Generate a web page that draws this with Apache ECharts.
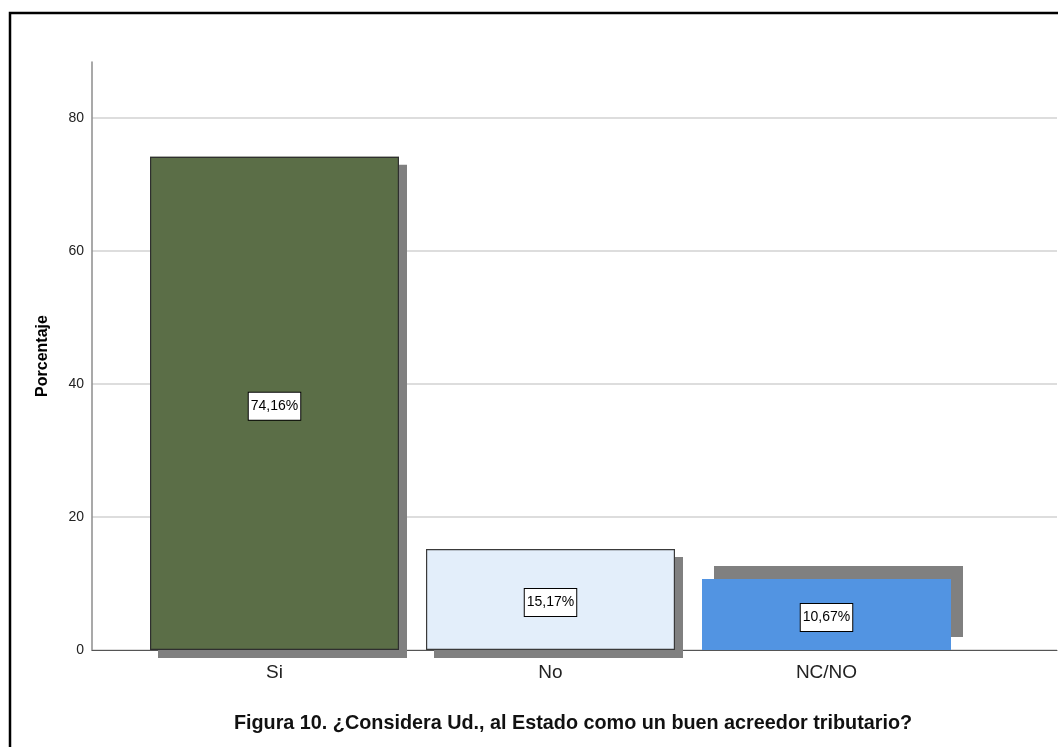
<!DOCTYPE html>
<html>
<head>
<meta charset="utf-8">
<script src="https://cdn.jsdelivr.net/npm/echarts@6/dist/echarts.min.js"></script>
<style>
  html, body { margin: 0; padding: 0; background: #fff; }
  #chart { width: 1058px; height: 747px; }
</style>
</head>
<body>
<div id="chart"></div>
<script>
// Survey answers and their share of respondents (%)
const categories = ['Si', 'No', 'NC/NO'];
const percentages = [74.16, 15.17, 10.67];
const barColors = ['#5b6e47', '#e3eefa', '#5294e2'];
const barBorders = ['#2f2f2f', '#3a3a3a', 'transparent'];
const yTicks = [0, 20, 40, 60, 80];
const yMax = 88.4;

const sans = '"Liberation Sans", Arial, sans-serif';

const chart = echarts.init(document.getElementById('chart'), null, { renderer: 'canvas' });

// filled bars casting a flat grey drop shadow (the last one is shifted up-right)
const fillData = percentages.map((v, i) => ({
  value: v,
  itemStyle: {
    color: barColors[i],
    shadowColor: '#808080',
    shadowBlur: 0,
    shadowOffsetX: i === 2 ? 12 : 8,
    shadowOffsetY: i === 2 ? -13 : 8
  }
}));

// outline layer drawn on top, carrying the value labels
const outlineData = percentages.map((v, i) => ({
  value: v,
  itemStyle: {
    color: 'transparent',
    borderColor: barBorders[i],
    borderWidth: 1.2
  }
}));

chart.setOption({
  animation: false,
  backgroundColor: '#ffffff',
  title: {
    text: 'Figura 10. ¿Considera Ud., al Estado como un buen acreedor tributario?',
    left: 568,
    top: 709,
    textAlign: 'center',
    textStyle: { fontFamily: sans, fontWeight: 'bold', fontSize: 19.8, color: '#111' }
  },
  graphic: [{
    type: 'rect',
    shape: { x: 10, y: 13, width: 1100, height: 800 },
    style: { fill: 'none', stroke: '#000', lineWidth: 2.5 },
    silent: true
  }],
  grid: [
    // frame holding the value axis and gridlines
    { left: 92, right: 1, top: 62, bottom: 97 },
    // band area where the category bars sit
    { left: 136.5, width: 828, top: 62, bottom: 97 }
  ],
  xAxis: [
    {
      gridIndex: 0, type: 'value', min: 0, max: 1,
      axisLine: { show: true, onZero: false, lineStyle: { color: '#555', width: 1 } },
      axisTick: { show: false }, axisLabel: { show: false }, splitLine: { show: false }
    },
    {
      gridIndex: 1, type: 'category', data: categories,
      axisLine: { show: false }, axisTick: { show: false },
      axisLabel: { margin: 13, fontFamily: sans, fontSize: 19, color: '#222' }
    }
  ],
  yAxis: [
    {
      gridIndex: 0, type: 'value', min: 0, max: yMax, interval: 20,
      name: 'Porcentaje', nameLocation: 'middle', nameRotate: 90, nameGap: 41,
      nameTextStyle: { fontFamily: sans, fontWeight: 'bold', fontSize: 16, color: '#000' },
      axisLine: { show: true, lineStyle: { color: '#8c8c8c', width: 1.5 } },
      axisTick: { show: false },
      axisLabel: {
        margin: 8, fontFamily: sans, fontSize: 14, color: '#222',
        showMaxLabel: false,
        formatter: v => (yTicks.includes(v) ? String(v) : '')
      },
      splitLine: { show: true, showMaxLine: false, lineStyle: { color: '#d2d2d2', width: 1.5 } }
    },
    {
      gridIndex: 1, type: 'value', min: 0, max: yMax, interval: 20,
      show: false, splitLine: { show: false }
    }
  ],
  series: [
    {
      type: 'bar',
      xAxisIndex: 1, yAxisIndex: 1,
      barWidth: 249,
      data: fillData
    },
    {
      type: 'bar',
      xAxisIndex: 1, yAxisIndex: 1,
      barWidth: 249,
      barGap: '-100%',
      data: outlineData,
      label: {
        show: true,
        position: 'inside',
        offset: [0, 3],
        formatter: p => p.value.toFixed(2).replace('.', ',') + '%',
        fontFamily: sans, fontSize: 14, lineHeight: 15, color: '#000',
        backgroundColor: '#fff', borderColor: '#000', borderWidth: 1,
        padding: [6, 2, 6, 2]
      }
    }
  ]
});
</script>
</body>
</html>
